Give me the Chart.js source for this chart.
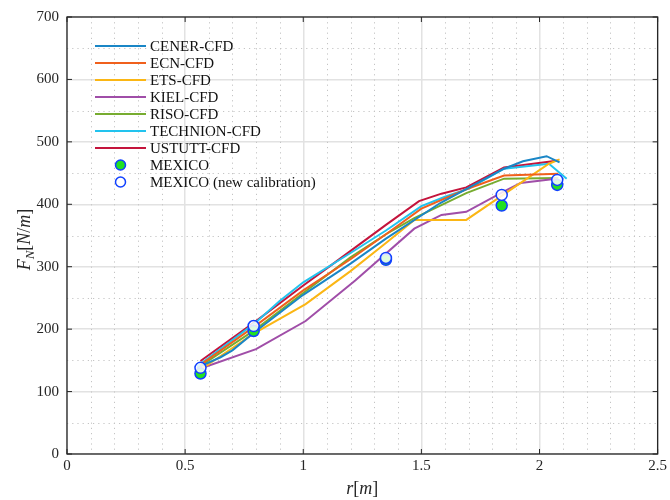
<!DOCTYPE html>
<html><head><meta charset="utf-8">
<script src="https://cdn.jsdelivr.net/npm/chart.js@4"></script>
<style>html,body{margin:0;padding:0;background:#fff}</style>
</head><body>
<canvas id="c" width="670" height="500"></canvas>
<script>
// ---- data ----
const cenerR = [0.55,0.65,0.70,0.80,1.00,1.20,1.35,1.58,1.85,1.93,2.03,2.085];
const cenerF = [138,155,166,197,255,305,345,402,457,469,477,467];
const ecnR = [0.565,0.80,1.00,1.20,1.35,1.50,1.69,1.85,2.08];
const ecnF = [143,206,262,312,352,393,424,446,449];
const etsR = [0.565,0.79,1.01,1.20,1.35,1.47,1.69,2.04,2.085];
const etsF = [135,193,240,293,338,375,375,465,472];
const kielR = [0.565,0.80,1.01,1.22,1.47,1.585,1.69,1.846,1.92,2.07];
const kielF = [137,168,213,278,361,383,388,420,434,441];
const risoR = [0.565,0.80,1.00,1.20,1.35,1.47,1.69,1.85,2.08];
const risoF = [141,200,258,315,352,378,418,441,442];
const technionR = [0.55,0.80,0.90,1.00,1.20,1.35,1.50,1.60,1.70,1.85,2.04,2.115];
const technionF = [140,211,245,275,322,358,397,412,425,457,465,441];
const ustuttR = [0.565,0.79,1.00,1.12,1.35,1.49,1.585,1.69,1.85,2.08];
const ustuttF = [149,210,270,303,367,405,417,427,459,470];
const mexicoR = [0.565,0.79,1.35,1.84,2.075];
const mexicoF = [129,197,311,398,431];
const mexicoNewF = [138,205,314,415,439];
const xTicks = [0,0.5,1,1.5,2,2.5];
const yTicks = [0,100,200,300,400,500,600,700];

const lineSeries = [
  ['CENER-CFD', cenerR, cenerF, '#1a86c6'],
  ['ECN-CFD', ecnR, ecnF, '#f0601c'],
  ['ETS-CFD', etsR, etsF, '#fbb614'],
  ['KIEL-CFD', kielR, kielF, '#a04ea8'],
  ['RISO-CFD', risoR, risoF, '#77ac30'],
  ['TECHNION-CFD', technionR, technionF, '#22c3ee'],
  ['USTUTT-CFD', ustuttR, ustuttF, '#c4143c']
];
const pts = (xs, ys) => xs.map((x,i)=>({x, y: ys[i]}));

const datasets = lineSeries.map(([label, xs, ys, col]) => ({
  label, data: pts(xs, ys), borderColor: col, backgroundColor: col,
  borderWidth: 2, pointRadius: 0, showLine: true, tension: 0, order: 2, kind: 'line'
}));
datasets.push({label:'MEXICO', data: pts(mexicoR, mexicoF), showLine:false,
  pointRadius:5.5, pointBorderWidth:1.5, pointBackgroundColor:'#22e022', pointBorderColor:'#1040ff', order:1, kind:'fill'});
datasets.push({label:'MEXICO (new calibration)', data: pts(mexicoR, mexicoNewF), showLine:false,
  pointRadius:5.5, pointBorderWidth:1.5, pointBackgroundColor:'rgba(255,255,255,0.85)', pointBorderColor:'#1040ff', order:0, kind:'open'});

const SERIF = '"Liberation Serif", "DejaVu Serif", serif';

const decor = {
  id: 'decor',
  beforeDatasetsDraw(chart) {
    const {ctx, chartArea: a, scales: {x, y}} = chart;
    ctx.save();
    ctx.strokeStyle = '#c4c4c4';
    ctx.lineWidth = 1;
    ctx.setLineDash([1.2, 4]);
    for (let i = 1; i < 25; i++) {
      if (i % 5 === 0) continue;
      const px = Math.round(x.getPixelForValue(i / 10)) + 0.5;
      ctx.beginPath(); ctx.moveTo(px, a.top); ctx.lineTo(px, a.bottom); ctx.stroke();
    }
    for (let v = 50; v < 700; v += 100) {
      const py = Math.round(y.getPixelForValue(v)) + 0.5;
      ctx.beginPath(); ctx.moveTo(a.left, py); ctx.lineTo(a.right, py); ctx.stroke();
    }
    ctx.restore();
  },
  afterDraw(chart) {
    const {ctx, chartArea: a, scales: {x, y}} = chart;
    ctx.save();
    // frame
    ctx.strokeStyle = '#262626';
    ctx.lineWidth = 1.3;
    ctx.strokeRect(a.left, a.top, a.right - a.left, a.bottom - a.top);
    // inward ticks
    ctx.lineWidth = 1;
    xTicks.forEach(v => {
      const px = x.getPixelForValue(v);
      ctx.beginPath(); ctx.moveTo(px, a.bottom); ctx.lineTo(px, a.bottom - 5);
      ctx.moveTo(px, a.top); ctx.lineTo(px, a.top + 5); ctx.stroke();
    });
    yTicks.forEach(v => {
      const py = y.getPixelForValue(v);
      ctx.beginPath(); ctx.moveTo(a.left, py); ctx.lineTo(a.left + 5, py);
      ctx.moveTo(a.right, py); ctx.lineTo(a.right - 5, py); ctx.stroke();
    });
    // legend
    const lx0 = a.left + 28, lx1 = a.left + 79, tx = a.left + 83;
    let ly = a.top + 29;
    ctx.font = '15px ' + SERIF;
    ctx.textBaseline = 'middle';
    ctx.textAlign = 'left';
    chart.data.datasets.forEach(ds => {
      if (ds.kind === 'line') {
        ctx.strokeStyle = ds.borderColor; ctx.lineWidth = 2;
        ctx.beginPath(); ctx.moveTo(lx0, ly); ctx.lineTo(lx1, ly); ctx.stroke();
      } else {
        ctx.beginPath(); ctx.arc((lx0 + lx1) / 2, ly, 5, 0, Math.PI * 2);
        ctx.fillStyle = ds.kind === 'fill' ? '#22e022' : '#ffffff';
        ctx.fill();
        ctx.strokeStyle = '#1040ff'; ctx.lineWidth = 1.5; ctx.stroke();
      }
      ctx.fillStyle = '#111';
      ctx.fillText(ds.label, tx, ly + 1);
      ly += 17;
    });
    // axis titles
    ctx.fillStyle = '#262626';
    ctx.textBaseline = 'alphabetic';
    function drawRun(list, startX, baseY) {
      let cx = startX;
      list.forEach(([t, f, dy]) => { ctx.font = f; ctx.fillText(t, cx, baseY + (dy || 0)); cx += ctx.measureText(t).width; });
    }
    function runWidth(list) {
      let w = 0; list.forEach(([t, f]) => { ctx.font = f; w += ctx.measureText(t).width; }); return w;
    }
    const it = 'italic 18px ' + SERIF, up = '18px ' + SERIF, sub = 'italic 13px ' + SERIF;
    const xt = [['r', it], ['[', up], ['m', it], [']', up]];
    const xc = (a.left + a.right) / 2;
    drawRun(xt, xc - runWidth(xt) / 2, 494);
    const yt = [['F', it], ['N', sub, 4], ['[', up], ['N', it], ['/', up], ['m', it], [']', up]];
    ctx.translate(30, (a.top + a.bottom) / 2 + 4);
    ctx.rotate(-Math.PI / 2);
    drawRun(yt, -runWidth(yt) / 2, 0);
    ctx.restore();
  }
};

new Chart(document.getElementById('c'), {
  type: 'scatter',
  data: { datasets },
  options: {
    responsive: false, animation: false, devicePixelRatio: 1,
    layout: { padding: { left: 0, top: 16, right: 12, bottom: 0 } },
    plugins: { legend: { display: false }, tooltip: { enabled: false } },
    scales: {
      x: {
        type: 'linear', min: 0, max: 2.5,
        afterBuildTicks: s => { s.ticks = xTicks.map(v => ({value: v})); },
        afterFit: s => { s.height = 46; },
        ticks: { font: { family: SERIF, size: 15 }, color: '#262626', padding: 3, maxRotation: 0,
                 callback: v => String(v) },
        grid: { color: '#e2e2e2', lineWidth: 1.5, drawTicks: false },
        border: { display: false }
      },
      y: {
        type: 'linear', min: 0, max: 700,
        afterBuildTicks: s => { s.ticks = yTicks.map(v => ({value: v})); },
        afterFit: s => { s.width = 67; },
        ticks: { font: { family: SERIF, size: 15 }, color: '#262626', padding: 8, callback: v => String(v) },
        grid: { color: '#e2e2e2', lineWidth: 1.5, drawTicks: false },
        border: { display: false }
      }
    }
  },
  plugins: [decor]
});
</script>
</body></html>
